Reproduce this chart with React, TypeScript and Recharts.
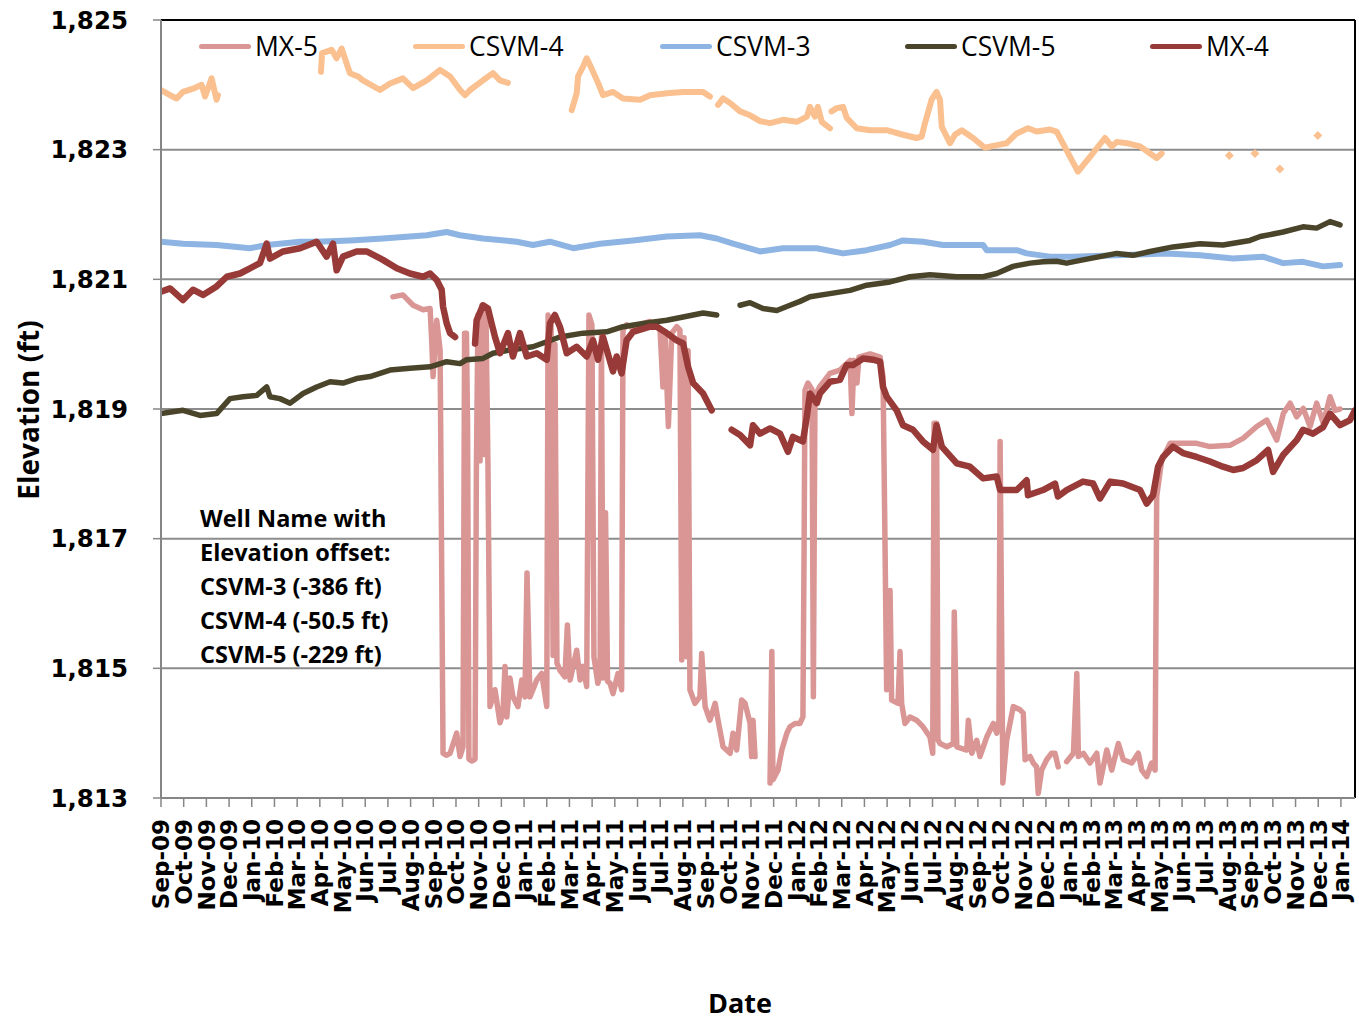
import { ComposedChart, Line, XAxis, YAxis, CartesianGrid, Legend, ReferenceLine } from 'recharts';

// x = months since Sep-09, y = elevation (ft); null breaks the line
type Pt = [number, number | null];

const monthLabels = [
  'Sep-09', 'Oct-09', 'Nov-09', 'Dec-09',
  'Jan-10', 'Feb-10', 'Mar-10', 'Apr-10', 'May-10', 'Jun-10', 'Jul-10', 'Aug-10', 'Sep-10', 'Oct-10', 'Nov-10', 'Dec-10',
  'Jan-11', 'Feb-11', 'Mar-11', 'Apr-11', 'May-11', 'Jun-11', 'Jul-11', 'Aug-11', 'Sep-11', 'Oct-11', 'Nov-11', 'Dec-11',
  'Jan-12', 'Feb-12', 'Mar-12', 'Apr-12', 'May-12', 'Jun-12', 'Jul-12', 'Aug-12', 'Sep-12', 'Oct-12', 'Nov-12', 'Dec-12',
  'Jan-13', 'Feb-13', 'Mar-13', 'Apr-13', 'May-13', 'Jun-13', 'Jul-13', 'Aug-13', 'Sep-13', 'Oct-13', 'Nov-13', 'Dec-13',
  'Jan-14',
];

const elevationTicks = [1813, 1815, 1817, 1819, 1821, 1823, 1825];

const seriesOrder = ['MX-5', 'CSVM-4', 'CSVM-3', 'CSVM-5', 'MX-4'];

const mx5: Pt[] = [
  [10.22, 1820.73], [10.66, 1820.76], [11.11, 1820.6], [11.55, 1820.53], [11.86, 1820.55], [11.93, 1820.06],
  [11.99, 1819.5], [12.15, 1820.37], [12.3, 1819.91], [12.43, 1813.69], [12.59, 1813.66], [12.74, 1813.69],
  [13.03, 1814.0], [13.18, 1813.64], [13.31, 1813.79], [13.38, 1820.17], [13.46, 1820.17], [13.51, 1818.78],
  [13.57, 1813.6], [13.71, 1813.57], [13.84, 1813.6], [13.9, 1818.11], [13.97, 1820.45], [14.06, 1818.2],
  [14.15, 1820.6], [14.24, 1818.3], [14.32, 1820.5], [14.41, 1818.11], [14.5, 1814.41], [14.72, 1814.67],
  [14.94, 1814.16], [15.07, 1814.31], [15.16, 1815.03], [15.24, 1814.25], [15.38, 1814.85], [15.51, 1814.56],
  [15.73, 1814.41], [15.9, 1814.82], [16.04, 1814.56], [16.13, 1816.47], [16.26, 1814.56], [16.56, 1814.82],
  [16.78, 1814.92], [17.0, 1814.41], [17.06, 1820.45], [17.19, 1820.3], [17.28, 1815.2], [17.36, 1820.0],
  [17.45, 1815.08], [17.58, 1814.97], [17.8, 1814.87], [17.91, 1815.67], [18.03, 1814.82], [18.32, 1815.28],
  [18.47, 1814.82], [18.6, 1815.03], [18.76, 1814.72], [18.86, 1820.45], [18.99, 1820.3], [19.08, 1815.18],
  [19.25, 1814.77], [19.35, 1814.9], [19.41, 1820.17], [19.48, 1814.85], [19.59, 1817.4], [19.68, 1814.8],
  [19.79, 1814.77], [19.92, 1814.61], [20.14, 1814.92], [20.3, 1814.67], [20.36, 1820.22], [20.52, 1820.3],
  [20.8, 1820.25], [21.11, 1820.3], [21.55, 1820.35], [21.99, 1820.25], [22.12, 1819.34], [22.21, 1820.2],
  [22.36, 1818.73], [22.51, 1820.17], [22.73, 1820.27], [22.87, 1820.22], [22.95, 1815.13], [23.05, 1820.1],
  [23.17, 1815.18], [23.23, 1819.9], [23.31, 1814.67], [23.53, 1814.46], [23.75, 1814.56], [23.83, 1815.23],
  [23.98, 1814.41], [24.19, 1814.2], [24.42, 1814.46], [24.55, 1814.2], [24.77, 1813.79], [25.08, 1813.69],
  [25.21, 1814.0], [25.37, 1813.74], [25.59, 1814.51], [25.74, 1814.46], [25.96, 1814.15], [26.03, 1813.64],
  [26.09, 1814.2], [26.18, 1813.64], [26.4, null],
  [26.84, 1813.23], [26.92, 1815.26], [26.97, 1813.28], [27.19, 1813.43], [27.36, 1813.74], [27.58, 1814.0],
  [27.72, 1814.1], [27.94, 1814.15], [28.16, 1814.15], [28.29, 1814.25], [28.34, 1816.78], [28.38, 1819.29],
  [28.51, 1819.4], [28.69, 1819.3], [28.75, 1814.56], [28.82, 1819.2], [29.04, 1819.35], [29.48, 1819.55],
  [29.92, 1819.6], [30.37, 1819.75], [30.45, 1818.93], [30.54, 1819.75], [30.67, 1819.4], [30.76, 1819.8],
  [31.25, 1819.85], [31.69, 1819.8], [31.82, 1819.5], [31.91, 1816.85], [31.98, 1814.67], [32.13, 1816.2],
  [32.2, 1814.51], [32.48, 1814.46], [32.57, 1815.26], [32.64, 1814.46], [32.79, 1814.15], [33.01, 1814.25],
  [33.3, 1814.2], [33.58, 1814.1], [33.89, 1813.94], [34.01, 1813.69], [34.07, 1818.78], [34.18, 1818.78],
  [34.24, 1813.9], [34.33, 1813.84], [34.63, 1813.79], [34.92, 1813.84], [34.96, 1815.87], [35.07, 1813.79],
  [35.51, 1813.74], [35.58, 1814.2], [35.73, 1813.69], [35.95, 1813.89], [36.09, 1813.64], [36.39, 1813.94],
  [36.68, 1814.15], [36.83, 1814.0], [36.93, 1814.2], [36.98, 1818.5], [37.1, 1813.23], [37.27, 1813.89],
  [37.56, 1814.41], [37.86, 1814.36], [38.0, 1814.31], [38.08, 1813.59], [38.3, 1813.64], [38.44, 1813.54],
  [38.59, 1813.48], [38.66, 1813.07], [38.81, 1813.43], [39.03, 1813.59], [39.25, 1813.69], [39.4, 1813.69],
  [39.54, 1813.48], [39.7, null],
  [39.91, 1813.56], [40.21, 1813.69], [40.36, 1814.92], [40.43, 1813.64], [40.65, 1813.69], [40.94, 1813.54],
  [41.24, 1813.69], [41.38, 1813.23], [41.68, 1813.74], [41.9, 1813.43], [42.19, 1813.84], [42.41, 1813.59],
  [42.78, 1813.54], [43.07, 1813.69], [43.22, 1813.43], [43.44, 1813.33], [43.66, 1813.54], [43.81, 1813.43],
  [43.88, 1817.65], [44.1, 1818.21], [44.47, 1818.47], [45.06, 1818.47], [45.64, 1818.47], [46.23, 1818.42],
  [47.11, 1818.44], [47.7, 1818.55], [48.29, 1818.73], [48.73, 1818.83], [49.17, 1818.52], [49.46, 1818.93],
  [49.76, 1819.09], [50.05, 1818.88], [50.34, 1819.01], [50.64, 1818.73], [50.93, 1819.09], [51.22, 1818.78],
  [51.52, 1819.19], [51.74, 1818.98], [51.96, 1819.0],
];

const csvm4: Pt[] = [
  [0, 1823.92], [0.4, 1823.84], [0.69, 1823.79], [0.97, 1823.89], [1.41, 1823.94], [1.79, 1824.0],
  [1.94, 1823.82], [2.23, 1824.1], [2.45, 1823.77], [2.51, 1823.84], [2.6, null],
  [7.05, 1824.2], [7.1, 1824.49], [7.52, 1824.54], [7.74, 1824.41], [7.96, 1824.56], [8.18, 1824.33],
  [8.33, 1824.18], [8.68, 1824.13], [8.9, 1824.07], [9.65, 1823.92], [10.09, 1824.02], [10.66, 1824.1],
  [11.11, 1823.95], [11.71, 1824.07], [12.3, 1824.23], [12.74, 1824.13], [13.18, 1823.92], [13.4, 1823.84],
  [13.62, 1823.92], [14.19, 1824.07], [14.63, 1824.18], [14.94, 1824.07], [15.29, 1824.03], [15.5, null],
  [18.1, 1823.61], [18.32, 1823.87], [18.38, 1824.13], [18.6, 1824.28], [18.76, 1824.41], [18.98, 1824.25],
  [19.26, 1824.03], [19.48, 1823.84], [19.92, 1823.89], [20.36, 1823.79], [21.11, 1823.77], [21.55, 1823.84],
  [22.29, 1823.87], [23.01, 1823.89], [23.89, 1823.89], [24.19, 1823.82], [24.4, null],
  [24.55, 1823.69], [24.77, 1823.79], [25.08, 1823.72], [25.52, 1823.59], [25.96, 1823.53], [26.4, 1823.44],
  [26.84, 1823.41], [27.41, 1823.46], [28.02, 1823.43], [28.46, 1823.51], [28.6, 1823.66], [28.82, 1823.51],
  [28.95, 1823.66], [29.12, 1823.43], [29.48, 1823.33], [29.51, null],
  [29.55, 1823.59], [29.78, 1823.64], [30.06, 1823.66], [30.22, 1823.49], [30.66, 1823.33], [31.25, 1823.3],
  [31.98, 1823.3], [32.7, 1823.23], [33.3, 1823.18], [33.52, 1823.2], [33.67, 1823.41], [33.96, 1823.77],
  [34.18, 1823.89], [34.33, 1823.77], [34.41, 1823.35], [34.77, 1823.1], [34.99, 1823.23], [35.29, 1823.3],
  [35.79, 1823.18], [36.31, 1823.03], [36.83, 1823.07], [37.27, 1823.1], [37.71, 1823.25], [38.21, 1823.33],
  [38.59, 1823.28], [39.18, 1823.31], [39.47, 1823.28], [39.91, 1822.99], [40.41, 1822.66], [40.94, 1822.89],
  [41.6, 1823.18], [41.9, 1823.05], [42.12, 1823.12], [42.56, 1823.1], [43.15, 1823.05], [43.59, 1822.94],
  [43.88, 1822.87], [44.1, 1822.94],
];

const csvm4Sparse: Pt[] = [
  [47.08, 1822.91], [48.21, 1822.94], [49.31, 1822.7], [50.98, 1823.22],
];

const csvm3: Pt[] = [
  [0, 1821.58], [0.97, 1821.55], [2.45, 1821.53], [3.92, 1821.48], [4.66, 1821.53], [6.13, 1821.58],
  [6.86, 1821.58], [8.33, 1821.6], [9.78, 1821.63], [10.97, 1821.66], [11.71, 1821.68], [12.59, 1821.73],
  [13.18, 1821.68], [14.19, 1821.63], [15.68, 1821.58], [16.39, 1821.53], [17.14, 1821.58], [18.16, 1821.48],
  [19.35, 1821.55], [20.8, 1821.6], [22.29, 1821.66], [23.75, 1821.68], [24.49, 1821.63], [25.21, 1821.55],
  [26.4, 1821.43], [27.41, 1821.48], [28.9, 1821.48], [30.06, 1821.4], [31.1, 1821.45], [32.13, 1821.53],
  [32.7, 1821.6], [33.58, 1821.58], [34.46, 1821.53], [36.23, 1821.53], [36.39, 1821.45], [37.71, 1821.45],
  [38.15, 1821.4], [39.18, 1821.35], [40.19, 1821.35], [42.12, 1821.37], [44.32, 1821.4], [45.79, 1821.37],
  [47.25, 1821.32], [48.57, 1821.35], [49.45, 1821.25], [50.33, 1821.27], [51.21, 1821.2], [51.96, 1821.22],
];

const csvm5: Pt[] = [
  [0, 1818.93], [0.97, 1818.98], [1.72, 1818.9], [2.45, 1818.93], [3.04, 1819.16], [3.61, 1819.19],
  [4.22, 1819.21], [4.66, 1819.34], [4.8, 1819.19], [5.24, 1819.16], [5.69, 1819.09], [6.26, 1819.24],
  [6.86, 1819.34], [7.45, 1819.42], [8.02, 1819.4], [8.62, 1819.47], [9.21, 1819.5], [10.09, 1819.6],
  [10.97, 1819.63], [11.86, 1819.65], [12.59, 1819.73], [13.18, 1819.7], [13.47, 1819.76], [14.19, 1819.78],
  [14.63, 1819.86], [15.38, 1819.91], [16.39, 1819.96], [17.58, 1820.11], [18.6, 1820.17], [19.64, 1820.19],
  [20.36, 1820.27], [21.24, 1820.32], [22.29, 1820.37], [23.01, 1820.42], [23.89, 1820.48], [24.49, 1820.45],
  [25.0, null],
  [25.52, 1820.6], [25.96, 1820.64], [26.53, 1820.55], [27.14, 1820.52], [27.72, 1820.6], [28.16, 1820.66],
  [28.6, 1820.73], [29.48, 1820.78], [30.37, 1820.83], [31.1, 1820.91], [32.13, 1820.96], [33.01, 1821.04],
  [33.89, 1821.07], [35.07, 1821.04], [36.23, 1821.04], [36.83, 1821.09], [37.55, 1821.2], [38.3, 1821.25],
  [38.87, 1821.27], [39.47, 1821.28], [39.91, 1821.25], [40.63, 1821.3], [41.38, 1821.35], [42.12, 1821.4],
  [42.84, 1821.37], [43.59, 1821.43], [44.6, 1821.5], [45.79, 1821.55], [46.8, 1821.53], [47.99, 1821.6],
  [48.44, 1821.66], [49.45, 1821.73], [50.33, 1821.81], [50.93, 1821.79], [51.52, 1821.89], [51.96, 1821.84],
];

const mx4: Pt[] = [
  [0, 1820.81], [0.4, 1820.86], [0.97, 1820.68], [1.41, 1820.84], [1.85, 1820.76], [2.45, 1820.89],
  [2.9, 1821.04], [3.48, 1821.09], [3.92, 1821.17], [4.36, 1821.25], [4.66, 1821.55], [4.8, 1821.32],
  [5.38, 1821.43], [6.13, 1821.48], [6.86, 1821.58], [7.3, 1821.35], [7.58, 1821.55], [7.74, 1821.14],
  [8.02, 1821.35], [8.62, 1821.43], [9.06, 1821.43], [9.51, 1821.35], [9.78, 1821.3], [10.39, 1821.17],
  [10.97, 1821.09], [11.55, 1821.04], [11.86, 1821.09], [12.15, 1820.99], [12.37, 1820.84], [12.43, 1820.58],
  [12.59, 1820.32], [12.74, 1820.17], [12.96, 1820.11], [13.2, null],
  [13.84, 1820.01], [13.91, 1820.37], [14.19, 1820.6], [14.41, 1820.55], [14.57, 1820.32], [14.72, 1820.11],
  [14.94, 1819.86], [15.29, 1820.17], [15.51, 1819.81], [15.82, 1820.17], [16.12, 1819.81], [16.56, 1819.86],
  [17.0, 1819.76], [17.14, 1820.32], [17.36, 1820.45], [17.58, 1820.27], [17.88, 1819.86], [18.32, 1819.96],
  [18.76, 1819.81], [19.04, 1820.06], [19.26, 1819.76], [19.48, 1820.11], [19.92, 1819.58], [20.08, 1819.81],
  [20.3, 1819.55], [20.52, 1820.06], [20.8, 1820.19], [21.55, 1820.27], [21.85, 1820.27], [22.29, 1820.17],
  [22.73, 1820.06], [23.01, 1820.01], [23.23, 1819.65], [23.45, 1819.4], [23.89, 1819.24], [24.27, 1818.98],
  [24.6, null],
  [25.15, 1818.68], [25.52, 1818.6], [25.96, 1818.44], [26.09, 1818.75], [26.4, 1818.62], [26.84, 1818.7],
  [27.28, 1818.62], [27.63, 1818.34], [27.85, 1818.57], [28.29, 1818.5], [28.46, 1818.88], [28.6, 1819.24],
  [28.9, 1819.09], [29.04, 1819.24], [29.48, 1819.42], [29.92, 1819.45], [30.22, 1819.68], [30.5, 1819.68],
  [30.94, 1819.78], [31.38, 1819.76], [31.69, 1819.73], [31.82, 1819.34], [31.98, 1819.19], [32.42, 1818.98],
  [32.7, 1818.75], [33.14, 1818.68], [33.58, 1818.5], [34.02, 1818.37], [34.18, 1818.75], [34.41, 1818.42],
  [35.07, 1818.16], [35.65, 1818.11], [36.23, 1817.93], [36.83, 1817.96], [36.98, 1817.75], [37.71, 1817.75],
  [38.15, 1817.9], [38.21, 1817.67], [38.87, 1817.75], [39.4, 1817.85], [39.53, 1817.65], [39.91, 1817.75],
  [40.63, 1817.88], [41.08, 1817.85], [41.38, 1817.62], [41.83, 1817.88], [42.4, 1817.85], [43.15, 1817.75],
  [43.44, 1817.54], [43.72, 1817.67], [43.94, 1818.11], [44.16, 1818.26], [44.6, 1818.42], [45.04, 1818.32],
  [45.64, 1818.26], [46.23, 1818.19], [46.8, 1818.11], [47.25, 1818.06], [47.69, 1818.09], [48.29, 1818.21],
  [48.79, 1818.37], [49.01, 1818.03], [49.45, 1818.29], [50.05, 1818.52], [50.33, 1818.68], [50.77, 1818.62],
  [51.21, 1818.72], [51.52, 1818.93], [51.96, 1818.75], [52.4, 1818.83], [52.62, 1818.98],
];

const offsetNotes = ['Well Name with', 'Elevation offset:', 'CSVM-3 (-386 ft)', 'CSVM-4 (-50.5 ft)', 'CSVM-5 (-229 ft)'];

const toRows = (pts: Pt[]) => pts.map(([m, v]) => ({ m, v }));

const legendLeft = [199, 413, 660, 905, 1150];

function WellLegend(props: any) {
  const items = (props.payload || [])
    .filter((p: any) => seriesOrder.includes(p.value))
    .sort((a: any, b: any) => seriesOrder.indexOf(a.value) - seriesOrder.indexOf(b.value));
  return (
    <div style={{ position: 'relative', width: 1359, height: 52 }}>
      {items.map((p: any, i: number) => (
        <div
          key={p.value}
          style={{ position: 'absolute', left: legendLeft[i], top: 0, height: 52, display: 'flex', alignItems: 'center' }}
        >
          <span style={{ display: 'inline-block', width: 52, height: 5, borderRadius: 3, background: p.color, marginRight: 4 }} />
          <span style={{ fontFamily: '"Open Sans", sans-serif', fontSize: 26.5, color: '#000' }}>{p.value}</span>
        </div>
      ))}
    </div>
  );
}

function MonthTick(props: any) {
  const { x, y, payload } = props;
  return (
    <text
      x={x}
      y={y}
      transform={`rotate(-90 ${x} ${y})`}
      textAnchor="end"
      dy="0.36em"
      fontFamily="DejaVu Sans"
      fontWeight="bold"
      fontSize={23}
      fill="#000"
    >
      {monthLabels[payload.value]}
    </text>
  );
}

function Diamond(props: any) {
  const { cx, cy, index } = props;
  if (cx == null || cy == null) return <g key={`d${index}`} />;
  return <path key={`d${index}`} d={`M${cx},${cy - 4.5}L${cx + 4.5},${cy}L${cx},${cy + 4.5}L${cx - 4.5},${cy}Z`} fill="#FAC090" />;
}

const titleFont = { fontFamily: '"Open Sans", sans-serif', fontWeight: 700, color: '#000' } as const;

export default function App() {
  const xMax = 52.62;
  return (
    <div style={{ position: 'absolute', left: 0, top: 0, width: 1359, height: 1020, background: '#fff' }}>
      <ComposedChart width={1359} height={1020} margin={{ top: 20, right: 4, bottom: 0, left: 0 }}>
        <CartesianGrid vertical={false} stroke="#8c8c8c" strokeWidth={2} />
        <XAxis
          dataKey="m"
          type="number"
          domain={[0, xMax]}
          ticks={monthLabels.map((_, i) => i)}
          interval={0}
          allowDataOverflow
          height={222}
          tickSize={9}
          tickMargin={12}
          tick={<MonthTick />}
          axisLine={{ stroke: '#868686', strokeWidth: 2 }}
          tickLine={{ stroke: '#868686', strokeWidth: 1.5 }}
        />
        <YAxis
          type="number"
          domain={[1813, 1825]}
          ticks={elevationTicks}
          allowDataOverflow
          width={161}
          tickSize={8}
          tickMargin={25}
          tickFormatter={(v: number) => v.toLocaleString('en-US')}
          tick={{ fontFamily: 'DejaVu Sans', fontWeight: 'bold', fontSize: 24.5, fill: '#000' }}
          axisLine={{ stroke: '#868686', strokeWidth: 2 }}
          tickLine={{ stroke: '#868686', strokeWidth: 1.5 }}
        />
        <Legend
          layout="horizontal"
          verticalAlign="middle"
          align="center"
          content={<WellLegend />}
          wrapperStyle={{ left: 0, top: 20, width: 1359 }}
        />
        <Line data={toRows(mx5)} dataKey="v" name="MX-5" stroke="#D99694" strokeWidth={5.5} dot={false}
          strokeLinejoin="round" strokeLinecap="round" isAnimationActive={false} />
        <Line data={toRows(csvm4)} dataKey="v" name="CSVM-4" stroke="#FAC090" strokeWidth={6} dot={false}
          strokeLinejoin="round" strokeLinecap="round" isAnimationActive={false} />
        <Line data={toRows(csvm4Sparse)} dataKey="v" name="CSVM-4 readings" stroke="none" legendType="none"
          dot={(p: any) => <Diamond {...p} />} activeDot={false} isAnimationActive={false} />
        <Line data={toRows(csvm3)} dataKey="v" name="CSVM-3" stroke="#8DB4E2" strokeWidth={6} dot={false}
          strokeLinejoin="round" strokeLinecap="round" isAnimationActive={false} />
        <Line data={toRows(csvm5)} dataKey="v" name="CSVM-5" stroke="#4A452A" strokeWidth={5.5} dot={false}
          strokeLinejoin="round" strokeLinecap="round" isAnimationActive={false} />
        <Line data={toRows(mx4)} dataKey="v" name="MX-4" stroke="#983A37" strokeWidth={6.5} dot={false}
          strokeLinejoin="round" strokeLinecap="round" isAnimationActive={false} />
        <ReferenceLine y={1825} stroke="#000" strokeWidth={2} />
        <ReferenceLine x={xMax} stroke="#000" strokeWidth={2} />
      </ComposedChart>

      <div style={{ ...titleFont, position: 'absolute', left: 28, top: 410, fontSize: 28, lineHeight: 1, whiteSpace: 'nowrap',
        transform: 'translate(-50%, -50%) rotate(-90deg)' }}>
        Elevation (ft)
      </div>
      <div style={{ ...titleFont, position: 'absolute', left: 640, width: 200, top: 990, height: 26, fontSize: 27, lineHeight: '26px',
        textAlign: 'center' }}>
        Date
      </div>
      <div style={{ ...titleFont, position: 'absolute', left: 200, top: 501, fontSize: 23.5, lineHeight: '34px', whiteSpace: 'nowrap' }}>
        {offsetNotes.map((t) => (
          <div key={t}>{t}</div>
        ))}
      </div>
    </div>
  );
}
